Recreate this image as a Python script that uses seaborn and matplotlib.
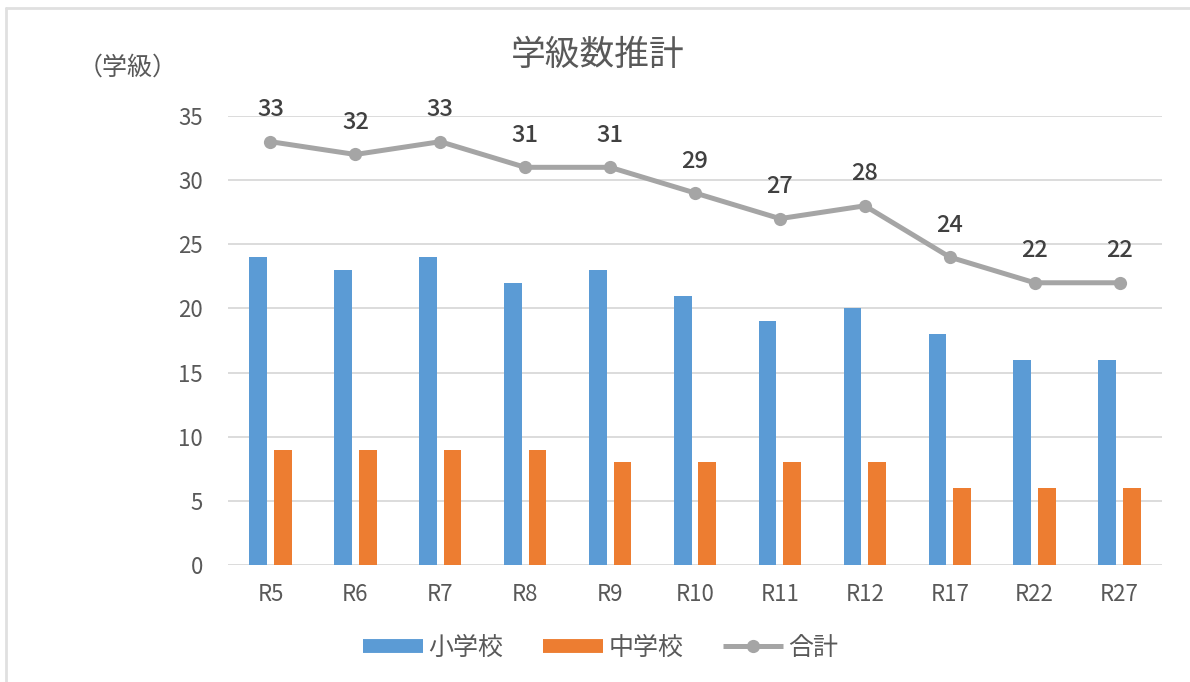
import numpy as np
import pandas as pd
import matplotlib
matplotlib.use('Agg')
import matplotlib.pyplot as plt
import seaborn as sns
from matplotlib.lines import Line2D

years = ['R5', 'R6', 'R7', 'R8', 'R9', 'R10', 'R11', 'R12', 'R17', 'R22', 'R27']
elementary = [24, 23, 24, 22, 23, 21, 19, 20, 18, 16, 16]
junior = [9, 9, 9, 9, 8, 8, 8, 8, 6, 6, 6]
total = [33, 32, 33, 31, 31, 29, 27, 28, 24, 22, 22]
series_names = ['小学校', '中学校', '合計']

blue, orange, gray = '#5B9BD5', '#ED7D31', '#A5A5A5'
text_col = '#595959'

sns.set_theme(style='white')
plt.rcParams['font.family'] = ['Noto Sans CJK JP', 'DejaVu Sans']

bars = pd.DataFrame({
    'year': years * 2,
    'value': elementary + junior,
    'school': [series_names[0]] * len(years) + [series_names[1]] * len(years),
})

fig = plt.figure(figsize=(11.9, 6.82), dpi=100)
ax = fig.add_axes([0.1916, 0.1716, 0.7849, 0.6583])

sns.barplot(data=bars, x='year', y='value', hue='school', order=years,
            hue_order=series_names[:2], palette=[blue, orange],
            width=0.58, gap=0.28, saturation=1, linewidth=0,
            ax=ax, legend=False)

xs = np.arange(len(years))
sns.lineplot(x=xs, y=total, color=gray, linewidth=3.6, marker='o',
             markersize=9.5, markeredgewidth=0, ax=ax, zorder=5)
for x, v in zip(xs, total):
    ax.annotate(str(v), (x, v), xytext=(0, 23), textcoords='offset points',
                ha='center', va='center', fontsize=17, color='#404040',
                fontweight='medium')

ax.set_ylim(0, 35)
ax.set_xlim(-0.5, len(years) - 0.5)
ax.set_yticks(range(0, 36, 5))
ax.yaxis.grid(True, color='#D9D9D9', linewidth=1.3)
ax.set_axisbelow(True)
for s in ax.spines.values():
    s.set_visible(False)
ax.tick_params(axis='both', length=0, labelsize=16, labelcolor=text_col)
ax.tick_params(axis='y', pad=18)
ax.tick_params(axis='x', pad=13)
ax.set_xlabel('')
ax.set_ylabel('')

fig.text(0.5025, 0.919, '学級数推計', ha='center', va='center',
         fontsize=25, color=text_col)
fig.text(0.107, 0.901, '（学級）', ha='center', va='center',
         fontsize=18, color=text_col)

handles = [Line2D([], [], color=blue, linewidth=10, solid_capstyle='butt'),
           Line2D([], [], color=orange, linewidth=10, solid_capstyle='butt'),
           Line2D([], [], color=gray, linewidth=3.6, marker='o', markersize=9.5,
                  markeredgewidth=0, solid_capstyle='butt')]
fig.legend(handles, series_names, loc='center', bbox_to_anchor=(0.505, 0.05),
           ncol=3, frameon=False, fontsize=18, labelcolor=text_col,
           handlelength=2.4, columnspacing=1.6, handletextpad=0.2)

# outer chart frame
fig.add_artist(Line2D([0.005, 0.005], [0, 0.988], color='#E0E0E0', linewidth=2,
                      transform=fig.transFigure))
fig.add_artist(Line2D([0.005, 1], [0.988, 0.988], color='#E0E0E0', linewidth=2,
                      transform=fig.transFigure))

fig.savefig('out.png', dpi=100)
